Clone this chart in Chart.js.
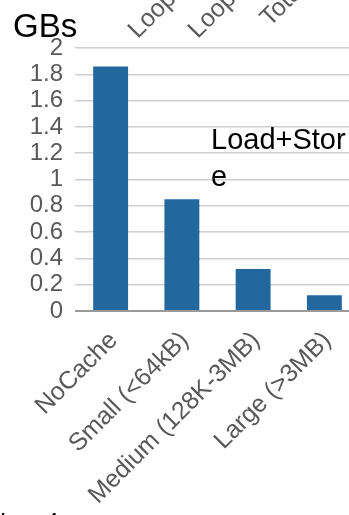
<!DOCTYPE html>
<html>
<head>
<meta charset="utf-8">
<script src="https://cdn.jsdelivr.net/npm/chart.js@4.4.1/dist/chart.umd.min.js"></script>
<style>
  html, body { margin: 0; padding: 0; background: #fff; overflow: hidden; width: 349px; height: 515px; }
  #wrap { position: relative; width: 362px; height: 515px; }
</style>
</head>
<body>
<div id="wrap"><canvas id="c"></canvas></div>
<script>
// Cache-size categories and measured bandwidth (GB/s)
const categories = ['NoCache', 'Small (<64kB)', 'Medium (128K-3MB)', 'Large (>3MB)'];
const bandwidth = [1.86, 0.85, 0.32, 0.12];
const yTicks = [0, 0.2, 0.4, 0.6, 0.8, 1, 1.2, 1.4, 1.6, 1.8, 2];

// Surrounding slide text
const unitLabel = 'GBs';
const panelNote = ['Load+Stor', 'e'];
const upperPanelLabels = ['Loop1', 'Loop2', 'Total'];
const footerText = 'Lec 4';

const FONT = '"Liberation Sans", Arial, sans-serif';
const GRAY = '#595959';

const slideText = {
  id: 'slideText',
  afterDraw(chart) {
    const ctx = chart.ctx;
    ctx.save();
    // unit heading
    ctx.fillStyle = '#000';
    ctx.font = '33px ' + FONT;
    ctx.textAlign = 'left';
    ctx.textBaseline = 'alphabetic';
    ctx.fillText(unitLabel, 13, 37);

    // wrapped note inside the plot
    ctx.font = '29px ' + FONT;
    panelNote.forEach((line, i) => ctx.fillText(line, 211, 149 + i * 37));

    // rotated category labels of the panel above
    ctx.fillStyle = GRAY;
    ctx.font = '25px ' + FONT;
    ctx.textAlign = 'right';
    upperPanelLabels.forEach((t, i) => {
      ctx.save();
      ctx.translate(187 + i * 60, -10);
      ctx.rotate(-Math.PI / 4);
      ctx.fillText(t, 0, 0);
      ctx.restore();
    });

    // footer line
    ctx.fillStyle = '#000';
    ctx.font = '24px ' + FONT;
    ctx.textAlign = 'left';
    ctx.textBaseline = 'top';
    ctx.fillText(footerText, 0, 511);
    ctx.restore();
  }
};

new Chart(document.getElementById('c'), {
  type: 'bar',
  data: {
    labels: categories,
    datasets: [{
      data: bandwidth,
      backgroundColor: '#23679f',
      borderWidth: 0,
      barPercentage: 0.49,
      categoryPercentage: 1
    }]
  },
  options: {
    responsive: true,
    maintainAspectRatio: false,
    animation: false,
    layout: { padding: { top: 48, left: 0, right: 2, bottom: 0 } },
    plugins: { legend: { display: false }, tooltip: { enabled: false } },
    scales: {
      x: {
        grid: { display: false },
        border: { display: false },
        ticks: {
          color: GRAY,
          font: { family: FONT, size: 25 },
          minRotation: 45,
          maxRotation: 45,
          autoSkip: false,
          padding: 7,
          labelOffset: 3
        },
        afterFit(scale) { scale.height = 204; }
      },
      y: {
        min: 0,
        max: 2,
        afterBuildTicks(scale) { scale.ticks = yTicks.map(v => ({ value: v })); },
        grid: {
          drawTicks: false,
          color: ctx => ctx.tick && ctx.tick.value === 0 ? '#9a9a9a' : '#cfcfcf',
          lineWidth: ctx => ctx.tick && ctx.tick.value === 0 ? 2 : 1.5
        },
        border: { display: false },
        ticks: {
          color: GRAY,
          font: { family: FONT, size: 24 },
          padding: 12,
          autoSkip: false,
          callback: v => String(v)
        },
        afterFit(scale) { scale.width = 75; }
      }
    }
  },
  plugins: [slideText]
});
</script>
</body>
</html>
